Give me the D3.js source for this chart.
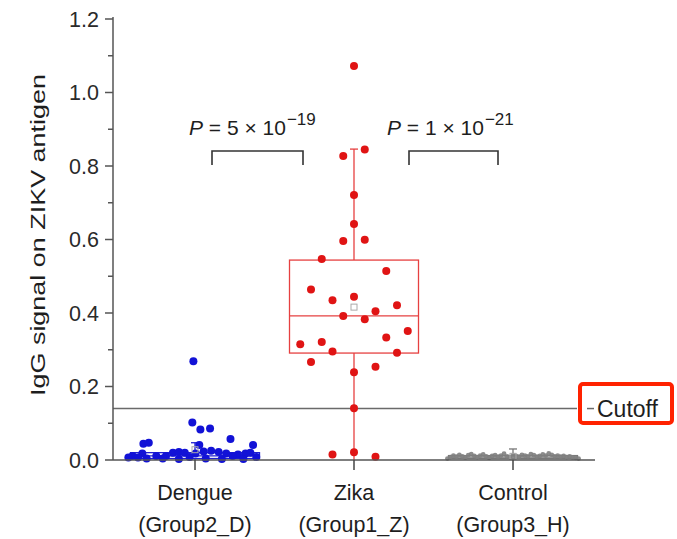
<!DOCTYPE html>
<html>
<head>
<meta charset="utf-8">
<script src="https://cdn.jsdelivr.net/npm/d3@7"></script>
<style>
  html, body { margin: 0; padding: 0; background: #fff; }
  svg { display: block; font-family: "Liberation Sans", Arial, sans-serif; }
</style>
</head>
<body>
<svg id="chart" width="677" height="539"></svg>
<script>
// ---- data ----
const groups = ["Dengue", "Zika", "Control"];
const groupCodes = ["(Group2_D)", "(Group1_Z)", "(Group3_H)"];
const yTicks = [0.0, 0.2, 0.4, 0.6, 0.8, 1.0, 1.2];
const cutoff = 0.14;

// Zika (Group1_Z) IgG signals and their column slot in the scatter
const zikaValues = [1.072, 0.845, 0.827, 0.721, 0.642, 0.599, 0.596, 0.547, 0.514, 0.464,
  0.444, 0.435, 0.421, 0.405, 0.392, 0.383, 0.351, 0.333, 0.321, 0.315,
  0.295, 0.292, 0.267, 0.254, 0.239, 0.141, 0.021, 0.015, 0.009];
const zikaSlots = [0, 1, -1, 0, 0, 1, -1, -3, 3, -4,
  0, -2, 4, 2, -1, 1, 5, 3, -3, -5,
  -2, 4, -4, 2, 0, 0, 0, -2, 2];

// Dengue (Group2_D)
const dengueValues = [0.269, 0.102, 0.083, 0.086, 0.057, 0.044, 0.047, 0.041, 0.041, 0.018,
  0.011, 0.020, 0.022, 0.020, 0.018, 0.023, 0.025, 0.022, 0.018, 0.015,
  0.018, 0.020, 0.007, 0.007, 0.011, 0.011, 0.008, 0.011, 0.008, 0.004,
  0.003, 0.004, 0.003, 0.004, 0.003];
const dengueSlots = [-0.15, -0.25, 0.5, 1.4, 3.3, -4.8, -4.3, 5.4, 0.4, -4.9,
  -5.8, -2.05, -1.5, -0.95, 0.05, 0.8, 1.5, 2.2, 2.9, 4.0,
  4.7, 5.15, -6.2, -5.3, -3.6, -2.7, -0.5, 3.5, 5.7, -4.5,
  -1.5, 1.0, 2.5, -3.0, 4.5];

// Control (Group3_H)
const controlValues = [0.004, 0.008, 0.012, 0.009, 0.014, 0.010, 0.007, 0.013, 0.016, 0.011,
  0.008, 0.012, 0.015, 0.010, 0.006, 0.011, 0.013, 0.009, 0.012, 0.017,
  0.010, 0.008, 0.013, 0.011, 0.009, 0.014, 0.012, 0.010, 0.016, 0.013,
  0.009, 0.011, 0.015, 0.012, 0.018, 0.014, 0.010, 0.012, 0.009, 0.011,
  0.008, 0.010, 0.007, 0.006, 0.004];

// box statistics [min whisker, q1, median, q3, max whisker, mean]
const boxStats = [
  [0.000, 0.004, 0.011, 0.020, 0.047, 0.028],
  [0.000, 0.291, 0.392, 0.544, 0.846, 0.416],
  [0.000, 0.004, 0.008, 0.012, 0.030, 0.010]
];
const pLabels = [
  { from: 0, to: 1, mant: "5", exp: "\u221219" },
  { from: 1, to: 2, mant: "1", exp: "\u221221" }
];

// ---- layout ----
const svg = d3.select("#chart");
const axisX = 113, axisRight = 595, baseY = 460;
const y = d3.scaleLinear().domain([0, 1.2]).range([baseY, 19]);
const x = d3.scalePoint().domain(groups).range([195, 513]);
const boxW = 129;
const slotW = boxW / 12;

const blue = "#1212d6", red = "#e01414", gray = "#6e6e6e";
const groupColors = [blue, red, gray];
const boxColors = ["#2020d0", "#e64040", "#777"];
const textColor = "#1e1e1e";

// cutoff line
svg.append("line")
  .attr("x1", axisX).attr("x2", 577)
  .attr("y1", y(cutoff)).attr("y2", y(cutoff))
  .attr("stroke", "#6a6a6a").attr("stroke-width", 1.5);
svg.append("line")
  .attr("x1", 587).attr("x2", 594)
  .attr("y1", y(cutoff)).attr("y2", y(cutoff))
  .attr("stroke", "#6a6a6a").attr("stroke-width", 1.5);
svg.append("text")
  .attr("x", 597).attr("y", y(cutoff) + 8)
  .attr("font-size", 23).attr("fill", textColor)
  .text("Cutoff");
svg.append("rect")
  .attr("x", 580).attr("y", 384).attr("width", 92).attr("height", 39)
  .attr("rx", 3)
  .attr("fill", "none").attr("stroke", "#ff2200").attr("stroke-width", 4);

// box plots
boxStats.forEach((s, i) => {
  const cx = x(groups[i]);
  const g = svg.append("g").attr("stroke", boxColors[i]).attr("fill", "none").attr("stroke-width", 1.3);
  g.append("line").attr("x1", cx).attr("x2", cx).attr("y1", y(s[0])).attr("y2", y(s[1]));
  g.append("line").attr("x1", cx).attr("x2", cx).attr("y1", y(s[3])).attr("y2", y(s[4]));
  g.append("line").attr("x1", cx - 4).attr("x2", cx + 4).attr("y1", y(s[4])).attr("y2", y(s[4]));
  g.append("rect").attr("x", cx - boxW / 2).attr("width", boxW)
    .attr("y", y(s[3])).attr("height", Math.max(1.5, y(s[1]) - y(s[3])));
  g.append("line").attr("x1", cx - boxW / 2).attr("x2", cx + boxW / 2)
    .attr("y1", y(s[2])).attr("y2", y(s[2]));
});

// scatter points
function drawPoints(values, slots, gi, r) {
  const cx = x(groups[gi]);
  svg.append("g").selectAll("circle").data(values).join("circle")
    .attr("cx", (d, k) => cx + slots[k] * slotW)
    .attr("cy", d => y(d))
    .attr("r", r)
    .attr("fill", groupColors[gi]);
}
drawPoints(dengueValues, dengueSlots, 0, 4);
drawPoints(zikaValues, zikaSlots, 1, 4);
// control: spread evenly across the box width in order
const ctrlSlots = controlValues.map((d, k) => (k / (controlValues.length - 1) - 0.5) * 12.2);
svg.append("g").selectAll("circle").data(controlValues).join("circle")
  .attr("cx", (d, k) => x(groups[2]) + ctrlSlots[k] * slotW)
  .attr("cy", d => y(d))
  .attr("r", 2.4)
  .attr("fill", "#808080").attr("opacity", 0.9);

// mean markers
boxStats.forEach((s, i) => {
  svg.append("rect")
    .attr("x", x(groups[i]) - 3).attr("y", y(s[5]) - 3)
    .attr("width", 6).attr("height", 6)
    .attr("fill", "none").attr("stroke", "#aaa").attr("stroke-width", 1);
});

// y axis
const yAxis = svg.append("g");
yAxis.append("line")
  .attr("x1", axisX).attr("x2", axisX).attr("y1", y(1.2) - 2).attr("y2", baseY)
  .attr("stroke", "#555").attr("stroke-width", 1.5);
const minor = d3.range(1, 12, 2).map(k => k / 10);
yAxis.selectAll(".minor").data(minor).join("line")
  .attr("x1", axisX - 5).attr("x2", axisX)
  .attr("y1", d => y(d)).attr("y2", d => y(d))
  .attr("stroke", "#555").attr("stroke-width", 1.5);
yAxis.selectAll(".major").data(yTicks).join("line")
  .attr("x1", axisX - 8).attr("x2", axisX)
  .attr("y1", d => y(d)).attr("y2", d => y(d))
  .attr("stroke", "#555").attr("stroke-width", 1.5);
yAxis.selectAll("text").data(yTicks).join("text")
  .attr("x", axisX - 14).attr("y", d => y(d) + 7.5)
  .attr("text-anchor", "end").attr("font-size", 21.5).attr("fill", "#2a2a2a")
  .text(d => d3.format(".1f")(d));

svg.append("text")
  .attr("transform", `translate(45,235) rotate(-90)`)
  .attr("text-anchor", "middle").attr("font-size", 21).attr("fill", textColor)
  .attr("textLength", 322).attr("lengthAdjust", "spacingAndGlyphs")
  .text("IgG signal on ZIKV antigen");

// x axis
svg.append("line")
  .attr("x1", axisX).attr("x2", axisRight).attr("y1", baseY).attr("y2", baseY)
  .attr("stroke", "#555").attr("stroke-width", 1.5);
svg.append("g").selectAll("line").data(groups).join("line")
  .attr("x1", d => x(d)).attr("x2", d => x(d))
  .attr("y1", baseY).attr("y2", baseY + 10)
  .attr("stroke", "#444").attr("stroke-width", 1.5);
const xl = svg.append("g").attr("font-size", 21.5).attr("fill", textColor).attr("text-anchor", "middle");
xl.selectAll(".n").data(groups).join("text")
  .attr("x", d => x(d)).attr("y", 500).text(d => d);
xl.selectAll(".c").data(groupCodes).join("text")
  .attr("x", (d, i) => x(groups[i])).attr("y", 532).text(d => d);

// significance brackets
const brY = 151, brDrop = 14;
pLabels.forEach(p => {
  const xa = p.from === 0 ? x(groups[0]) + 17 : x(groups[1]) + 55;
  const xb = p.from === 0 ? x(groups[1]) - 51 : x(groups[2]) - 15;
  svg.append("path")
    .attr("d", `M${xa},${brY + brDrop}V${brY}H${xb}V${brY + brDrop}`)
    .attr("fill", "none").attr("stroke", "#333").attr("stroke-width", 1.6);
  const t = svg.append("text")
    .attr("x", p.from === 0 ? 189 : 387).attr("y", 135)
    .attr("font-size", 21).attr("fill", textColor);
  t.append("tspan").attr("font-style", "italic").text("P");
  t.append("tspan").text(` = ${p.mant} \u00d7 10`);
  t.append("tspan").attr("dy", -10).attr("dx", 1).attr("font-size", 17).text(p.exp);
});
</script>
</body>
</html>
